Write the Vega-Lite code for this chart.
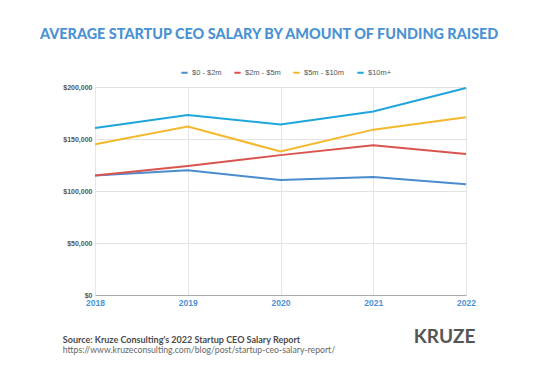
{
  "$schema": "https://vega.github.io/schema/vega-lite/v6.json",
  "background": "white",
  "padding": {"left": 38, "top": 26, "right": 10, "bottom": 5},
  "title": {
    "text": "AVERAGE STARTUP CEO SALARY BY AMOUNT OF FUNDING RAISED",
    "anchor": "middle",
    "frame": "bounds",
    "font": "Lato",
    "fontSize": 14.4,
    "fontWeight": 900,
    "color": "#4b92d4",
    "offset": 26
  },
  "vconcat": [
    {
      "width": 371,
      "height": 208,
      "title": {
        "text": "Source: Kruze Consulting's 2022 Startup CEO Salary Report",
        "subtitle": "https://www.kruzeconsulting.com/blog/post/startup-ceo-salary-report/",
        "orient": "bottom",
        "anchor": "start",
        "frame": "bounds",
        "font": "Lato",
        "fontSize": 9,
        "fontWeight": "bold",
        "color": "#4a4a4a",
        "subtitleFont": "Lato",
        "subtitleFontSize": 8.7,
        "subtitleColor": "#666666",
        "subtitlePadding": 1,
        "offset": -11
      },
      "data": {
        "values": [
          {"year": "2018", "tier": "$0 - $2m", "salary": 115000},
          {"year": "2019", "tier": "$0 - $2m", "salary": 120000},
          {"year": "2020", "tier": "$0 - $2m", "salary": 110600},
          {"year": "2021", "tier": "$0 - $2m", "salary": 113500},
          {"year": "2022", "tier": "$0 - $2m", "salary": 106500},
          {"year": "2018", "tier": "$2m - $5m", "salary": 115000},
          {"year": "2019", "tier": "$2m - $5m", "salary": 124000},
          {"year": "2020", "tier": "$2m - $5m", "salary": 134500},
          {"year": "2021", "tier": "$2m - $5m", "salary": 144000},
          {"year": "2022", "tier": "$2m - $5m", "salary": 135500},
          {"year": "2018", "tier": "$5m - $10m", "salary": 145000},
          {"year": "2019", "tier": "$5m - $10m", "salary": 162000},
          {"year": "2020", "tier": "$5m - $10m", "salary": 138000},
          {"year": "2021", "tier": "$5m - $10m", "salary": 159000},
          {"year": "2022", "tier": "$5m - $10m", "salary": 171000},
          {"year": "2018", "tier": "$10m+", "salary": 160500},
          {"year": "2019", "tier": "$10m+", "salary": 173000},
          {"year": "2020", "tier": "$10m+", "salary": 164000},
          {"year": "2021", "tier": "$10m+", "salary": 176500},
          {"year": "2022", "tier": "$10m+", "salary": 199000}
        ]
      },
      "mark": {"type": "line", "strokeWidth": 2},
      "encoding": {
        "x": {
          "field": "year",
          "type": "ordinal",
          "scale": {"type": "point", "padding": 0},
          "axis": {
            "title": "KRUZE",
            "titleFont": "Lato",
            "titleFontSize": 19,
            "titleFontWeight": "bold",
            "titleColor": "#555555",
            "titleAnchor": "end",
            "titleX": 380,
            "titleAlign": "right",
            "titlePadding": 21,
            "labelAngle": 0,
            "labelFont": "Liberation Sans",
            "labelFontSize": 8.5,
            "labelFontWeight": "bold",
            "labelColor": "#4b92d4",
            "labelPadding": 3,
            "ticks": false,
            "domainColor": "#aaaaaa",
            "grid": true,
            "gridColor": "#e6e6e6"
          }
        },
        "y": {
          "field": "salary",
          "type": "quantitative",
          "scale": {"domain": [0, 200000]},
          "axis": {
            "title": null,
            "values": [0, 50000, 100000, 150000, 200000],
            "format": "$,.0f",
            "labelFont": "Liberation Sans",
            "labelFontSize": 7,
            "labelFontWeight": "bold",
            "labelColor": "#555555",
            "labelPadding": 3,
            "ticks": false,
            "domain": false,
            "gridColor": "#e3e3e3"
          }
        },
        "color": {
          "field": "tier",
          "type": "nominal",
          "sort": ["$0 - $2m", "$2m - $5m", "$5m - $10m", "$10m+"],
          "scale": {
            "domain": ["$0 - $2m", "$2m - $5m", "$5m - $10m", "$10m+"],
            "range": ["#4a8ccc", "#d9534f", "#f4b82c", "#1ea6dc"]
          },
          "legend": {
            "title": null,
            "orient": "none",
            "direction": "horizontal",
            "legendX": 85,
            "legendY": -19,
            "symbolType": "stroke",
            "symbolSize": 40,
            "symbolStrokeWidth": 2,
            "labelFont": "Liberation Sans",
            "labelFontSize": 7.5,
            "labelColor": "#555555",
            "columnPadding": 8,
            "labelOffset": 3
          }
        }
      }
    }
  ],
  "config": {
    "view": {"stroke": null},
    "concat": {"spacing": 0}
  }
}
